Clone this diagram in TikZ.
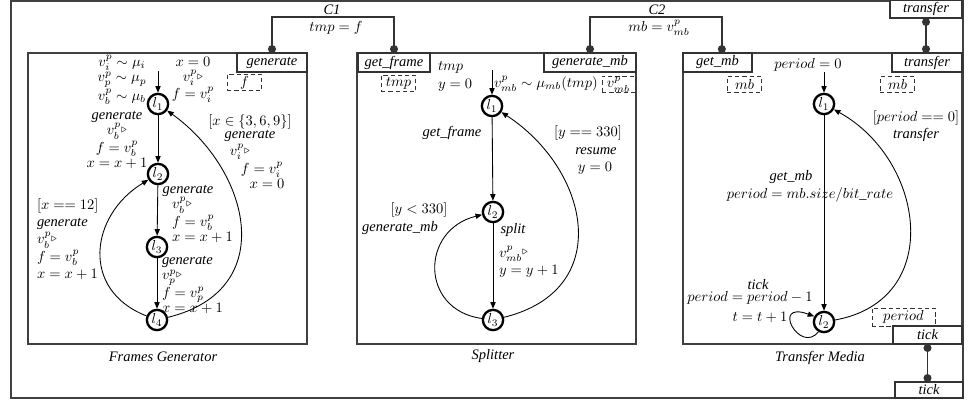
\documentclass[tikz,border=0pt]{standalone}
\usepackage[no-math]{fontspec}
\setmainfont{Liberation Serif}
\usetikzlibrary{arrows.meta}
% send marker after a variable
\newcommand{\sndmk}{\raisebox{1.6pt}{$\scriptstyle\triangleright$}}
\begin{document}
\begin{tikzpicture}[x=0.69pt,y=-0.69pt,
  every node/.style={inner sep=0pt, outer sep=0pt},
  frame/.style={draw=black!75, line width=0.9pt},
  tab/.style={draw=black!80, fill=white, line width=0.9pt, font=\itshape, minimum height=13pt},
  var/.style={draw=black!80, dash pattern=on 3pt off 2pt, line width=0.6pt, minimum height=11.5pt},
  loc/.style={circle, draw=black, line width=1.6pt, minimum size=14pt, inner sep=0pt, outer sep=0.8pt},
  arr/.style={draw=black, line width=0.6pt, -{Triangle[length=4.5pt,width=3.6pt]}},
  sync/.style={draw=black!80, line width=0.9pt, {Circle[length=5.5pt]}-{Circle[length=5.5pt]}},
  lbl/.style={align=center, font=\fontsize{10}{10.5}\selectfont},
  lbll/.style={align=left, font=\fontsize{10}{10.5}\selectfont},
  lblw/.style={align=left, font=\fontsize{10}{12}\selectfont},
  act/.style={font=\itshape},
]
\useasboundingbox (0,0) rectangle (969,400);

% network frame and automata frames
\draw[frame] (11,1) rectangle (963,398);
\draw[frame] (28,53) rectangle (307,344);
\draw[frame] (357,53) rectangle (636,344);
\draw[frame] (683,53) rectangle (962,344);

\node[act] (capfg) at (163,357) {Frames Generator};
\node[act] (capsp) at (493,356) {Splitter};
\node[act] (captm) at (820,358) {Transfer Media};

% interface ports
\node[tab, minimum width=48.3pt] (gentab) at (272,62.5) {generate};
\node[tab, minimum width=49.7pt] (gfrtab) at (394,62.5) {get\_frame};
\node[tab, minimum width=63.5pt] (gmbtab) at (590,62.5) {generate\_mb};
\node[tab, minimum width=47.6pt] (getmbtab) at (717.5,62.5) {get\_mb};
\node[tab, minimum width=48.3pt] (trtab) at (927,62.5) {transfer};
\node[tab, minimum width=47.6pt, minimum height=12.4pt] (ticktab) at (927.5,335) {tick};
\node[tab, minimum width=49.7pt, minimum height=12.4pt] (toptr) at (926,9) {transfer};
\node[tab, minimum width=46.9pt, minimum height=11pt] (bottick) at (929,390) {tick};

% connectors
\draw[sync] (gentab.north) -- ++(0,-36) -| (gfrtab.north);
\draw[sync] (gmbtab.north) -- ++(0,-36) -| ([xshift=3pt]getmbtab.north);
\draw[sync] (toptr.south) -- (toptr.south |- trtab.north);
\draw[sync] (ticktab.south) -- (ticktab.south |- bottick.north);
\node[act] (c1) at (332,10) {C1};
\node (c1u) at (336,28) {$tmp=f$};
\node[act] (c2) at (657,10) {C2};
\node (c2u) at (659,28) {$mb=v^p_{mb}$};

% ---------------- Frames Generator ----------------
\node[loc] (fl1) at (158,104) {$l_1$};
\node[loc] (fl2) at (158,174) {$l_2$};
\node[loc] (fl3) at (157,247) {$l_3$};
\node[loc] (fl4) at (157,320) {$l_4$};
\coordinate (fin) at (158,71);
\draw[arr] (fin) -- (fl1);
\draw[arr] (fl1) -- (fl2);
\draw[arr] (fl2) -- (fl3);
\draw[arr] (fl3) -- (fl4);
\draw[arr] (fl4) .. controls (280,290) and (250,170) .. (fl1);
\draw[arr] (fl4) .. controls (80,290) and (90,215) .. (fl2);

\node[lbl] (fgsmp) at (122,80) {$v_i^p\sim\mu_i$\\$v_p^p\sim\mu_p$\\$v_b^p\sim\mu_b$};
\node[lbl] (fgini) at (193,80) {$x=0$\\$v_i^p$\sndmk\\$f=v_i^p$};
\node[var, minimum width=24pt] (fgf) at (244.5,82.5) {$f$};

\node[lbl] (fge12) at (117,140) {\textit{generate}\\$v_b^p$\sndmk\\$f=v_b^p$\\$x=x+1$};

\node[act] (fge41a) at (250,122) {$[x\in\{3,6,9\}]$};
\node[act] (fge41b) at (250,136) {generate};
\node (fge41c) at (240,152) {$v_i^p$\sndmk};
\node (fge41d) at (262,170) {$f=v_i^p$};
\node (fge41e) at (267,184) {$x=0$};

\node[act] (fge23a) at (188,191) {generate};
\node[lbll, anchor=west] (fge23b) at (172,220) {$v_b^p$\sndmk\\$f=v_b^p$\\$x=x+1$};

\node[lbll, anchor=west] (fge34) at (162,285) {\textit{generate}\\$v_p^p$\sndmk\\$f=v_p^p$\\$x=x+1$};

\node[lblw, anchor=west] (fge42) at (37,239) {$[x==12]$\\\textit{generate}\\$v_b^p$\sndmk\\$f=v_b^p$\\$x=x+1$};

% ---------------- Splitter ----------------
\node[loc] (sl1) at (492,106) {$l_1$};
\node[loc] (sl2) at (493,212) {$l_2$};
\node[loc] (sl3) at (493,320) {$l_3$};
\coordinate (sin) at (492,70);
\draw[arr] (sin) -- (sl1);
\draw[arr] (sl1) -- (sl2);
\draw[arr] (sl2) -- (sl3);
\draw[arr] (sl3) .. controls (615,290) and (590,170) .. (sl1);
\draw[arr] (sl3) .. controls (420,310) and (420,230) .. (sl2);

\node[lblw, anchor=west] (spini) at (438,76.5) {$tmp$\\$y=0$};
\node[anchor=west] (spsmp) at (494,84) {$v^p_{mb}\sim\mu_{mb}(tmp)$};
\node[var, minimum width=24pt] (sptmp) at (398.5,83.5) {$tmp$};
\node[var, minimum width=22.8pt] (spvmb) at (618.5,84.5) {$v^p_{mb}$};

\node[act] (spe12) at (452,133) {get\_frame};
\node (spe31a) at (588,133) {$[y==330]$};
\node[act] (spe31b) at (596,151) {resume};
\node (spe31c) at (595,168) {$y=0$};
\node[act] (spe23a) at (513,230) {split};
\node[lblw, anchor=west] (spe23b) at (499,261.5) {$v^p_{mb}$\sndmk\\$y=y+1$};
\node (spe32a) at (419,210) {$[y<330]$};
\node[act] (spe32b) at (400,228) {generate\_mb};

% ---------------- Transfer Media ----------------
\node[loc] (tl1) at (824,104) {$l_1$};
\node[loc] (tl2) at (824,322) {$l_2$};
\coordinate (tin) at (824,72);
\draw[arr] (tin) -- (tl1);
\draw[arr] (tl1) -- (tl2);
\draw[arr] (tl2) .. controls (945,300) and (925,160) .. (tl1);
\draw[arr] (tl2.-120) .. controls (800,355) and (770,300) .. (tl2.150);

\node (tmini) at (808,65) {$period=0$};
\node[var, minimum width=24pt, minimum height=10.5pt] (tmmb1) at (744.5,84.5) {$mb$};
\node[var, minimum width=24pt, minimum height=10.5pt] (tmmb2) at (897.5,84.5) {$mb$};
\node[var, minimum width=43.5pt, minimum height=12.4pt] (tmper) at (903.5,317) {$period$};

\node[act] (tme12a) at (791,177) {get\_mb};
\node (tme12b) at (810,195) {$period=mb.size/bit\_rate$};
\node (tme21a) at (916,118) {$[period==0]$};
\node[act] (tme21b) at (916,135) {transfer};
\node[act] (tme22a) at (758,285) {tick};
\node (tme22b) at (750,298) {$period=period-1$};
\node (tme22c) at (760,317) {$t=t+1$};
\end{tikzpicture}
\end{document}
